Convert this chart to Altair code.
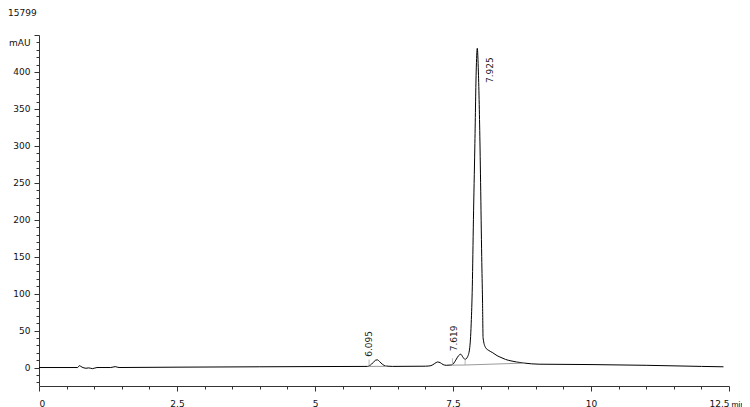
import altair as alt
import pandas as pd

# chromatogram trace (time in min, absorbance in mAU)
times = [0.0, 0.70, 0.73, 0.78, 0.85, 0.90, 0.97, 1.05, 1.30, 1.38, 1.45, 2.5, 4.0, 5.0,
         5.95, 6.00, 6.05, 6.10, 6.13, 6.17, 6.22, 6.28, 6.40, 7.00, 7.10, 7.17, 7.22,
         7.27, 7.32, 7.38, 7.48, 7.55, 7.60, 7.64, 7.68, 7.72, 7.76, 7.80, 7.83, 7.85,
         7.87, 7.895, 7.92, 7.94, 7.96, 7.99, 8.00, 8.02, 8.035, 8.045, 8.09, 8.15,
         8.22, 8.30, 8.37, 8.45, 8.55, 8.65, 8.79, 9.06, 10.0, 11.0, 12.0, 12.4]
signal = [0.0, 0.0, 2.5, 0.5, -1.0, -0.5, -1.5, 0.0, 0.0, 1.2, 0.0, 0.5, 1.0, 1.3,
          1.5, 3.0, 6.5, 10.0, 10.4, 8.0, 4.5, 2.0, 1.5, 1.8, 2.5, 5.5, 7.5,
          6.5, 4.0, 3.0, 3.5, 10.0, 16.0, 18.0, 14.0, 11.0, 14.0, 25.0, 60.0, 110.0,
          200.0, 297.0, 400.0, 432.0, 400.0, 297.0, 250.0, 150.0, 90.0, 40.0, 27.0, 23.0,
          20.0, 16.0, 13.6, 11.0, 9.0, 7.5, 6.0, 4.5, 4.0, 3.0, 1.5, 1.0]

# peak annotations
peak_rt = [6.095, 7.619, 7.925]
peak_height = [10.4, 18.0, 432.0]

# integration baselines
base_t1 = [5.98, 7.49, 7.72]
base_v1 = [1.5, 3.2, 3.4]
base_t2 = [6.30, 7.72, 8.80]
base_v2 = [1.6, 3.4, 6.0]

# peak delimiter marks
delim_t = [5.98, 7.49, 7.72]
delim_v = [1.5, 3.2, 3.4]

x_ticks = [i * 0.5 for i in range(26)]          # labelled every 2.5
y_ticks = [-20 + 10 * i for i in range(48)]     # labelled every 50

FONT = "DejaVu Sans"
AXC = "#333333"

trace = pd.DataFrame({"t": times, "v": signal})
peaks = pd.DataFrame({"t": peak_rt, "v": peak_height, "lab": [f"{p:.3f}" for p in peak_rt]})
bases = pd.DataFrame({"t": base_t1, "v": base_v1, "t2": base_t2, "v2": base_v2})
delims = pd.DataFrame({"t": delim_t, "v": delim_v})

xs = alt.Scale(domain=[0, 12.5], nice=False, zero=False)
ys = alt.Scale(domain=[-25, 450], nice=False, zero=False)

x_axis = alt.Axis(values=x_ticks, tickCount=200, grid=False, labelFont=FONT, labelFontSize=9,
                  labelColor="#111", domainColor=AXC, tickColor=AXC,
                  tickSize={"condition": {"test": "datum.value % 2.5 == 0", "value": 5}, "value": 3},
                  labelPadding=8, title="min", titleFont="Liberation Sans", titleFontSize=8.5,
                  titleFontWeight="normal", titleAlign="left", titleBaseline="middle",
                  titleX=692, titleY=18, titleColor="#111", labelFlush=True,
                  labelOverlap=False,
                  labelExpr="datum.value % 2.5 == 0 ? format(datum.value, '~g') : ''")
y_axis = alt.Axis(values=y_ticks, tickCount=200, grid=False, labelFont=FONT, labelFontSize=9,
                  labelColor="#111", domainColor=AXC, tickColor=AXC,
                  tickSize={"condition": {"test": "datum.value % 50 == 0", "value": 5}, "value": 3},
                  labelPadding=4, title="mAU", titleFont=FONT, titleFontSize=9,
                  titleFontWeight="normal", titleAngle=0, titleAlign="right",
                  titleBaseline="middle", titleX=-9, titleY=7, titleColor="#111",
                  labelFlush=False, labelOverlap=False,
                  labelExpr="(datum.value % 50 == 0 && datum.value >= 0 && datum.value < 450) ? format(datum.value, 'd') : ''")

line = alt.Chart(trace).mark_line(color="#000000", strokeWidth=1, interpolate="monotone").encode(
    x=alt.X("t:Q", scale=xs, axis=x_axis),
    y=alt.Y("v:Q", scale=ys, axis=y_axis),
)

baseline = alt.Chart(bases).mark_rule(color="#9a9a9a", strokeWidth=1).encode(
    x="t:Q", y="v:Q", x2="t2:Q", y2="v2:Q"
)

delim = alt.Chart(delims).mark_tick(orient="vertical", size=7, color="#9a9a9a",
                                    thickness=1, yOffset=-3.5).encode(x="t:Q", y="v:Q")

small_lab = alt.Chart(peaks).transform_filter("datum.v < 100").mark_text(
    angle=270, align="left", baseline="middle", dx=3, dy=-6,
    font=FONT, fontSize=9, color="#222"
).encode(x="t:Q", y="v:Q", text="lab:N")

big_lab = alt.Chart(peaks).transform_filter("datum.v >= 100").mark_text(
    angle=270, align="right", baseline="middle", dx=-9, dy=13.5,
    font=FONT, fontSize=9, color="#222"
).encode(x="t:Q", y="v:Q", text="lab:N")

chart = alt.layer(line, baseline, delim, small_lab, big_lab).properties(
    width=690, height=351,
    autosize=alt.AutoSizeParams(type="none"),
    padding={"left": 31, "top": 27, "right": 13, "bottom": 21},
    title=alt.TitleParams("15799", anchor="start", frame="group", dx=-31, offset=13,
                          font=FONT, fontSize=9, fontWeight="normal", color="#111"),
).configure_view(stroke=None)

chart.save("out.html", embed_options={"renderer": "svg", "actions": False})
